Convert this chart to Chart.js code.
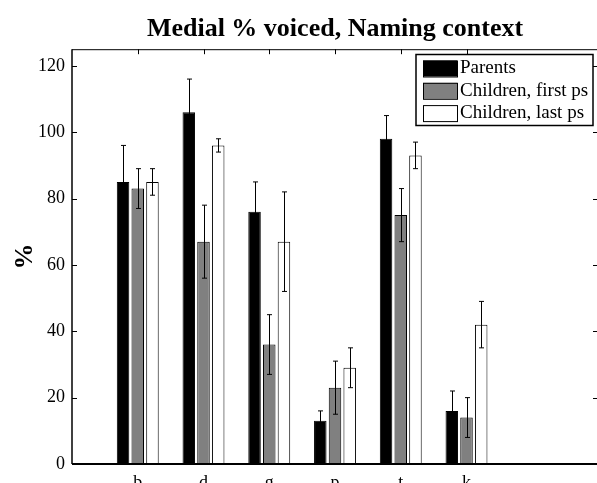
<!DOCTYPE html>
<html>
<head>
<meta charset="utf-8">
<script src="https://cdn.jsdelivr.net/npm/chart.js@4.4.0/dist/chart.umd.min.js"></script>
<style>
  html, body { margin: 0; padding: 0; overflow: hidden; background: #fff; }
  #wrap { width: 610px; height: 500px; }
</style>
</head>
<body>
<div id="wrap"><canvas id="myChart"></canvas></div>
<script>
// data
const categories = ['b', 'd', 'g', 'p', 't', 'k'];
const parents = [85, 106, 76, 13, 98, 16];
const parentsErr = [11, 10, 9, 3, 7, 6];
const childFirst = [83, 67, 36, 23, 75, 14];
const childFirstErr = [6, 11, 9, 8, 8, 6];
const childLast = [85, 96, 67, 29, 93, 42];
const childLastErr = [4, 2, 15, 6, 4, 7];
const yTicks = [0, 20, 40, 60, 80, 100, 120];

const serif = "'Liberation Serif', 'DejaVu Serif', serif";
const xPos = categories.map((c, i) => i + 1);
const toPoints = vals => vals.map((v, i) => ({ x: xPos[i], y: v }));

const errPlugin = {
  id: 'errs',
  afterDatasetsDraw(chart) {
    const ctx = chart.ctx;
    const y = chart.scales.y;
    ctx.save();
    ctx.strokeStyle = '#000';
    ctx.lineWidth = 1;
    chart.data.datasets.forEach((ds, i) => {
      const meta = chart.getDatasetMeta(i);
      meta.data.forEach((bar, j) => {
        const v = ds.data[j].y, e = ds.err[j];
        const top = y.getPixelForValue(v + e);
        const bot = y.getPixelForValue(v - e);
        const bx = Math.round(bar.x) + 0.5;
        ctx.beginPath();
        ctx.moveTo(bx, top); ctx.lineTo(bx, bot);
        ctx.moveTo(bx - 2.5, top); ctx.lineTo(bx + 2.5, top);
        ctx.moveTo(bx - 2.5, bot); ctx.lineTo(bx + 2.5, bot);
        ctx.stroke();
      });
    });
    ctx.restore();
  },
  afterDraw(chart) {
    const { ctx, chartArea: a } = chart;
    const x = chart.scales.x, y = chart.scales.y;
    ctx.save();
    ctx.strokeStyle = '#000';
    // frame
    ctx.lineWidth = 1;
    ctx.beginPath();
    ctx.moveTo(a.left, a.top + 0.5); ctx.lineTo(a.right, a.top + 0.5);
    ctx.moveTo(a.right - 0.5, a.top); ctx.lineTo(a.right - 0.5, a.bottom);
    ctx.stroke();
    ctx.lineWidth = 1.5;
    ctx.beginPath();
    ctx.moveTo(a.left, a.top); ctx.lineTo(a.left, a.bottom);
    ctx.stroke();
    ctx.lineWidth = 2;
    ctx.beginPath();
    ctx.moveTo(a.left, a.bottom); ctx.lineTo(a.right, a.bottom);
    ctx.stroke();
    // inward ticks
    ctx.lineWidth = 1;
    ctx.beginPath();
    yTicks.forEach(v => {
      const py = Math.round(y.getPixelForValue(v)) + 0.5;
      ctx.moveTo(a.left, py); ctx.lineTo(a.left + 5, py);
      ctx.moveTo(a.right - 5, py); ctx.lineTo(a.right, py);
    });
    xPos.forEach(v => {
      const px = Math.round(x.getPixelForValue(v)) + 0.5;
      ctx.moveTo(px, a.top); ctx.lineTo(px, a.top + 5);
    });
    ctx.stroke();
    // legend
    const lx = 416, ly = 54.5, lw = 177, lh = 71;
    ctx.fillStyle = '#fff';
    ctx.fillRect(lx, ly, lw, lh);
    ctx.lineWidth = 1.5;
    ctx.strokeRect(lx, ly, lw, lh);
    ctx.font = '19px ' + serif;
    ctx.textBaseline = 'middle';
    ctx.textAlign = 'left';
    chart.data.datasets.forEach((ds, i) => {
      const cy = ly + 14 + i * 22.3;
      ctx.fillStyle = ds.backgroundColor;
      ctx.fillRect(423, cy - 8, 34, 16);
      ctx.lineWidth = 1;
      ctx.strokeRect(423.5, cy - 7.5, 34, 16);
      ctx.fillStyle = '#000';
      ctx.fillText(ds.label, 460, cy);
    });
    ctx.restore();
  }
};

new Chart(document.getElementById('myChart'), {
  type: 'bar',
  data: {
    datasets: [
      { label: 'Parents', data: toPoints(parents), err: parentsErr, backgroundColor: '#000000' },
      { label: 'Children, first ps', data: toPoints(childFirst), err: childFirstErr, backgroundColor: '#808080' },
      { label: 'Children, last ps', data: toPoints(childLast), err: childLastErr, backgroundColor: '#ffffff' }
    ]
  },
  options: {
    responsive: true,
    maintainAspectRatio: false,
    animation: false,
    layout: { padding: { left: 0, right: 12, top: 0, bottom: 0 } },
    datasets: {
      bar: { borderColor: '#000', borderWidth: 1, categoryPercentage: 0.671, barPercentage: 0.85 }
    },
    plugins: {
      legend: { display: false },
      tooltip: { enabled: false },
      title: {
        display: true,
        text: 'Medial % voiced, Naming context',
        color: '#000',
        fullSize: false,
        font: { family: serif, size: 26, weight: 'bold' },
        padding: { top: 14, bottom: 4 }
      }
    },
    scales: {
      x: {
        type: 'linear',
        offset: false,
        min: 0,
        max: 8,
        grid: { display: false, drawTicks: false, offset: false },
        border: { display: false },
        ticks: {
          stepSize: 1,
          autoSkip: false,
          includeBounds: false,
          padding: 8,
          color: '#000',
          font: { family: serif, size: 18 },
          callback: v => categories[v - 1] || ''
        },
        afterFit: s => { s.height = 36; }
      },
      y: {
        min: 0,
        max: 125,
        grid: { display: false, drawTicks: false },
        border: { display: false },
        ticks: {
          stepSize: 20,
          includeBounds: false,
          padding: 7,
          color: '#000',
          font: { family: serif, size: 18 },
          callback: v => (yTicks.includes(v) ? v : '')
        },
        title: {
          display: true,
          text: '%',
          color: '#000',
          font: { family: serif, size: 26, weight: 'bold' },
          padding: { top: 10, bottom: 0 }
        },
        afterFit: s => { s.width = 72; }
      }
    }
  },
  plugins: [errPlugin]
});
</script>
</body>
</html>
